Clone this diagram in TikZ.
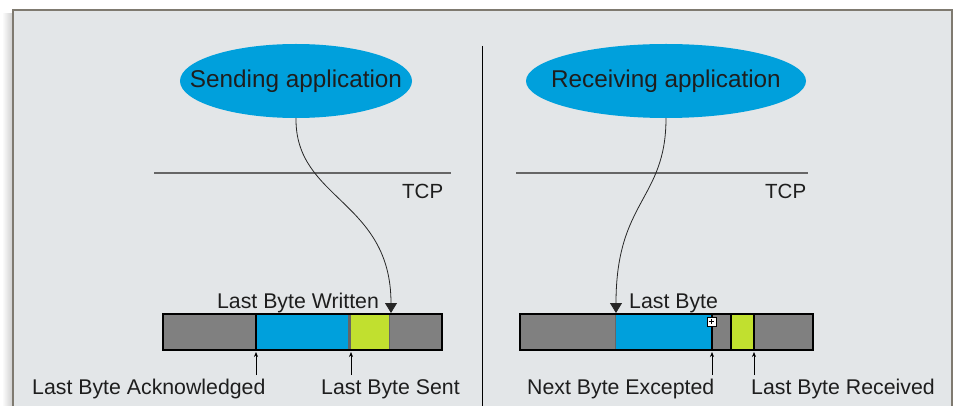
\documentclass[tikz,border=0pt]{standalone}
\usepackage{fontspec}
\setmainfont{Liberation Sans}
\usetikzlibrary{arrows.meta,shapes.geometric}
\definecolor{bgpanel}{HTML}{E3E6E8}
\definecolor{framec}{HTML}{7F7A70}
\definecolor{appblue}{HTML}{00A0DC}
\definecolor{seggray}{HTML}{808080}
\definecolor{seggreen}{HTML}{C1E02F}
\definecolor{tcpline}{HTML}{666666}
\definecolor{txt}{HTML}{1E1E1E}
\tikzset{
  app/.style={ellipse, fill=appblue, inner xsep=-60pt, inner ysep=0pt, minimum width=232pt, minimum height=74pt,
    font=\fontsize{24.3}{28}\selectfont, text=txt},
  lbl/.style={inner sep=0pt, font=\fontsize{21.3}{25}\selectfont, text=txt},
  tcplbl/.style={inner sep=0pt, font=\fontsize{20.5}{24}\selectfont, text=txt},
  flow/.style={draw=black!85, line width=0.8pt, -{Triangle[width=12pt,length=10pt]}},
  ptr/.style={draw=black, line width=0.7pt, -{Stealth[width=4pt,length=5pt]}},
}
\begin{document}
\begin{tikzpicture}[x=1pt,y=-1pt]
\useasboundingbox (0,0) rectangle (956,406);
% shadow and frame
\shade[left color=white, right color=black!18] (2,14) rectangle (12,406);
\fill[bgpanel] (13,10) rectangle (952,420);
\draw[framec, line width=2.4pt] (13,420) -- (13,10) -- (952,10) -- (952,420);
% divider
\coordinate (dtop) at (482,46);
\coordinate (dbot) at (482,406);
\draw[black, line width=1pt] (dtop) -- (dbot);
% TCP lines
\coordinate (tl1) at (154,173); \coordinate (tl2) at (451,173);
\coordinate (tr1) at (516,173); \coordinate (tr2) at (808,173);
\draw[tcpline, line width=1.6pt] (tl1) -- (tl2);
\draw[tcpline, line width=1.6pt] (tr1) -- (tr2);
\node[tcplbl, anchor=base west] (tcpL) at (402,199) {TCP};
\node[tcplbl, anchor=base west] (tcpR) at (765,199) {TCP};
% applications
\node[app] (send) at (296,81) {Sending application};
\node[app, minimum width=280pt] (recv) at (666,81) {Receiving application};
% ---------- left buffer ----------
\fill[seggray] (163,314) rectangle (256,350);
\fill[appblue] (256,314) rectangle (348,350);
\fill[tcpline] (348,314) rectangle (351,350);
\fill[seggreen] (351,314) rectangle (389,350);
\fill[seggray] (389,314) rectangle (442,350);
\draw[tcpline, line width=0.8pt] (389.5,314) -- (389.5,350);
\draw[black, line width=1.5pt] (163,314) rectangle (442,350);
\draw[black, line width=2pt] (256,314) -- (256,350);
% pointers left
\coordinate (lw) at (391,313);
\coordinate (la0) at (256,375); \coordinate (la1) at (256,352);
\coordinate (ls0) at (351,375); \coordinate (ls1) at (351,352);
\draw[ptr] (la0) -- (la1);
\draw[ptr] (ls0) -- (ls1);
\draw[flow] (send.south) .. controls (295,200) and (391,200) .. (lw);
\node[lbl, anchor=base] (lbw) at (298,308) {Last Byte Written};
\node[lbl, anchor=base west] (lba) at (32,394) {Last Byte Acknowledged};
\node[lbl, anchor=base west] (lbs) at (321,394) {Last Byte Sent};
% ---------- right buffer ----------
\fill[seggray] (520,314) rectangle (615,350);
\fill[appblue] (615,314) rectangle (711,350);
\fill[seggray] (711,314) rectangle (731,350);
\fill[seggreen] (731,314) rectangle (754,350);
\fill[seggray] (754,314) rectangle (813,350);
\draw[tcpline, line width=0.8pt] (615,314) -- (615,350);
\draw[black, line width=2pt] (712,314) -- (712,350);
\draw[black, line width=1.5pt] (731,314) -- (731,350);
\draw[black, line width=2pt] (754,314) -- (754,350);
\draw[black, line width=1.5pt] (520,314) rectangle (813,350);
% resize-like icon
\draw[black, fill=white, line width=0.6pt] (707,317) rectangle (716,326);
\draw[black, line width=0.7pt] (709,321.5) -- (714,321.5) (711.5,319) -- (711.5,324);
% pointers right
\coordinate (rl) at (616,313);
\coordinate (rn0) at (712,375); \coordinate (rn1) at (712,352);
\coordinate (rr0) at (754,375); \coordinate (rr1) at (754,352);
\draw[ptr] (rn0) -- (rn1);
\draw[ptr] (rr0) -- (rr1);
\draw[flow] (recv.south) .. controls (666,200) and (616,200) .. (rl);
\node[lbl, anchor=base west] (rlb) at (629,308) {Last Byte};
\node[lbl, anchor=base west] (rnb) at (527,394) {Next Byte Excepted};
\node[lbl, anchor=base west] (rrb) at (751,394) {Last Byte Received};
\end{tikzpicture}
\end{document}
